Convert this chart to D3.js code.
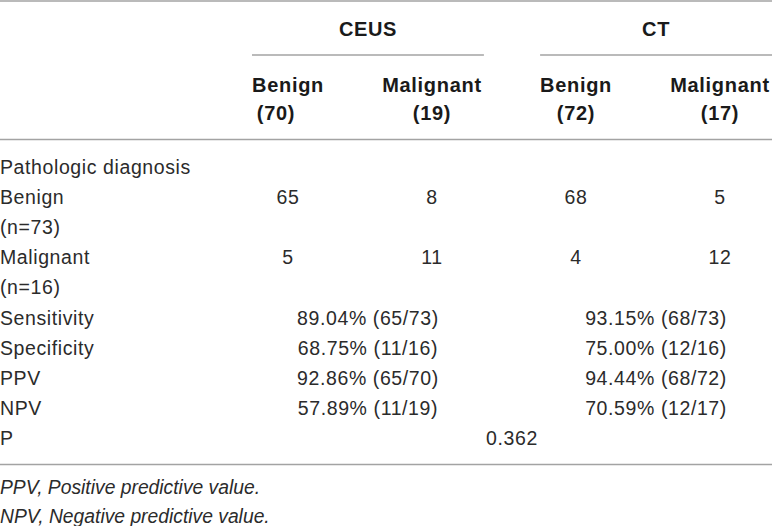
<!DOCTYPE html>
<html>
<head>
<meta charset="utf-8">
<script src="https://cdn.jsdelivr.net/npm/d3@7"></script>
<style>
  html, body { margin: 0; padding: 0; background: #fff; }
  svg { display: block; }
  text { font-family: "Liberation Sans", Arial, Helvetica, sans-serif; fill: #2b2b2b; }
</style>
</head>
<body>
<script>
// ---- data ----
const groups = ["CEUS", "CT"];
const colLabels = ["Benign", "Malignant", "Benign", "Malignant"];
const colCounts = ["(70)", "(19)", "(72)", "(17)"];
const sectionLabel = "Pathologic diagnosis";
const diagLabels = ["Benign", "Malignant"];
const diagNs = ["(n=73)", "(n=16)"];
const ceusCounts = [[65, 8], [5, 11]];
const ctCounts = [[68, 5], [4, 12]];
const metricLabels = ["Sensitivity", "Specificity", "PPV", "NPV"];
const ceusMetrics = ["89.04% (65/73)", "68.75% (11/16)", "92.86% (65/70)", "57.89% (11/19)"];
const ctMetrics = ["93.15% (68/73)", "75.00% (12/16)", "94.44% (68/72)", "70.59% (12/17)"];
const pLabel = "P";
const pValue = "0.362";
const footnotes = ["PPV, Positive predictive value.", "NPV, Negative predictive value."];

// ---- layout ----
const W = 772, H = 526;
const svg = d3.select("body").append("svg").attr("width", W).attr("height", H);

const groupX = d3.scaleBand().domain(groups).range([252, 772]).paddingInner(0.195).paddingOuter(0);
const colX = d3.scalePoint().domain(d3.range(colLabels.length)).range([288, 720]);
const rowY = d3.scaleLinear().domain([0, 9]).range([174, 445]);

const lineColor = "#a3a3a3";
const bodySize = 19.5, bodySpacing = 0.6;

function hline(x1, x2, y) {
  svg.append("line").attr("x1", x1).attr("x2", x2).attr("y1", y).attr("y2", y)
    .attr("stroke", lineColor).attr("stroke-width", 1.6);
}

// rules
hline(0, W, 1);
groups.forEach(g => hline(groupX(g), groupX(g) + groupX.bandwidth(), 55));
hline(0, W, 139.5);
hline(0, W, 464.5);

// group headers
svg.selectAll("text.group").data(groups).enter().append("text")
  .attr("class", "group")
  .attr("x", g => groupX(g) + groupX.bandwidth() / 2)
  .attr("y", 36)
  .attr("text-anchor", "middle")
  .attr("font-size", 20).attr("font-weight", "bold").attr("letter-spacing", 0.6)
  .style("fill", "#1a1a1a")
  .text(d => d);

// column headers
svg.selectAll("text.col").data(colLabels).enter().append("text")
  .attr("class", "col")
  .attr("x", (d, i) => colX(i))
  .attr("y", 92)
  .attr("text-anchor", "middle")
  .attr("font-size", 20).attr("font-weight", "bold").attr("letter-spacing", 0.7)
  .style("fill", "#1a1a1a")
  .text(d => d);
svg.selectAll("text.cnt").data(colCounts).enter().append("text")
  .attr("class", "cnt")
  .attr("x", (d, i) => colX(i) - (i === 0 ? 12 : 0))
  .attr("y", 120)
  .attr("text-anchor", "middle")
  .attr("font-size", 20).attr("font-weight", "bold").attr("letter-spacing", 0.7)
  .style("fill", "#1a1a1a")
  .text(d => d);

function bodyText(x, y, s, anchor) {
  return svg.append("text").attr("x", x).attr("y", y)
    .attr("text-anchor", anchor || "start")
    .attr("font-size", bodySize).attr("letter-spacing", bodySpacing)
    .text(s);
}

// left labels
bodyText(0, rowY(0), sectionLabel);
diagLabels.forEach((d, i) => {
  bodyText(0, rowY(1 + i * 2), d);
  bodyText(0, rowY(2 + i * 2), diagNs[i]);
});
metricLabels.forEach((d, i) => bodyText(0, rowY(5 + i), d));
bodyText(0, rowY(9), pLabel);

// counts
[ceusCounts, ctCounts].forEach((mat, gi) => {
  mat.forEach((row, ri) => {
    row.forEach((v, ci) => {
      bodyText(colX(gi * 2 + ci), rowY(1 + ri * 2), String(v), "middle");
    });
  });
});

// metrics
[ceusMetrics, ctMetrics].forEach((arr, gi) => {
  const cx = groupX(groups[gi]) + groupX.bandwidth() / 2;
  arr.forEach((v, i) => bodyText(cx, rowY(5 + i), v, "middle"));
});

// P value (centered across data area)
bodyText((groupX.range()[0] + groupX.range()[1]) / 2, rowY(9), pValue, "middle");

// footnotes
footnotes.forEach((f, i) => {
  svg.append("text").attr("x", 0).attr("y", 494 + i * 28.5)
    .attr("font-size", 19.3)
    .attr("font-style", "italic")
    .text(f);
});
</script>
</body>
</html>
